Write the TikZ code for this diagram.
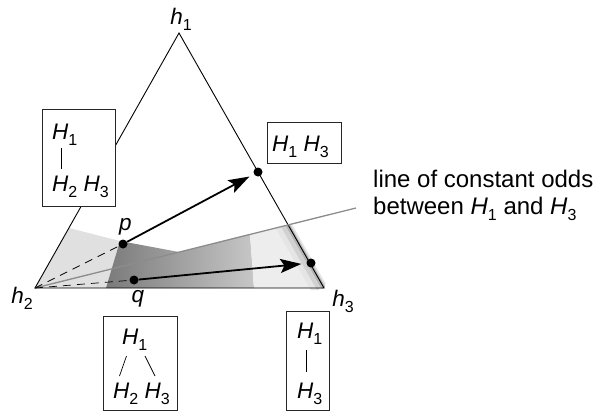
\documentclass[tikz,border=0pt]{standalone}
\usepackage{fontspec}
\setmainfont{Liberation Sans}
\usetikzlibrary{arrows.meta,positioning,calc}
\newcommand{\lowix}[1]{\raisebox{-6pt}{\fontsize{16}{16}\selectfont #1}}
\newcommand{\hyp}[1]{\textit{H}\lowix{#1}}
\newcommand{\vtx}[1]{\textit{h}\lowix{#1}}

\begin{document}
\begin{tikzpicture}[x=1pt,y=-1pt,
    font=\fontsize{22.5}{26}\selectfont,
    frame/.style={draw=black!85,line width=0.8pt,fill=white,inner sep=0pt},
    dot/.style={circle,fill=black,inner sep=0pt,minimum size=9pt},
    lbl/.style={inner sep=0pt},
    arr/.style={line width=1.8pt,-{Stealth[length=21pt,width=14pt,inset=4pt]},shorten >=5pt},
    guide/.style={dash pattern=on 8pt off 6pt,line width=0.7pt},
    odds/.style={black!45,line width=1.3pt},
    bar/.style={line width=0.7pt}]
  \useasboundingbox (0,0) rectangle (605,415);
  \coordinate (v1) at (179,33);
  \coordinate (v2) at (35,288);
  \coordinate (v3) at (324,288);
  \coordinate (oddsend) at (356,208);
  % shaded parts of the simplex
  \fill[black!12] (v2) -- (69,228) -- (120,241) -- (106,288) -- cycle;
  \shade[left color=black!52,right color=black!22]
    (106,288) -- (120,241) -- (179,252) -- (250,234.4) -- (254,288) -- cycle;
  \fill[black!7] (250,234.4) -- (288,225) -- (v3) -- (254,288) -- cycle;
  \begin{scope}
    \clip (270,229.4) -- (300,222) -- (330,290) -- (270,290) -- cycle;
    \draw[black!10,line width=16pt] ([xshift=-5pt]v1) -- ([xshift=-5pt]v3);
    \draw[black!18,line width=9pt] ([xshift=-3pt]v1) -- ([xshift=-3pt]v3);
    \draw[black!30,line width=4pt] ([xshift=-0.5pt]v1) -- ([xshift=-0.5pt]v3);
  \end{scope}
  % simplex
  \draw[line width=0.9pt] (v1) -- (v2) -- (v3) -- cycle;
  \draw[odds] (v2) -- (oddsend);
  \node[lbl] (lh1) at (181,19) {\vtx{1}};
  \node[lbl] (lh2) at (22,298.5) {\vtx{2}};
  \node[lbl] (lh3) at (343,301) {\vtx{3}};
  % points and moves
  \node[dot] (dp) at (123,244) {};
  \node[dot] (dq) at (134,280) {};
  \node[dot] (dr) at (258,172) {};
  \node[dot] (ds) at (311,263) {};
  \node[lbl,above=4pt of dp,xshift=2.5pt] (lp) {\textit{p}};
  \node[lbl,below=5.5pt of dq,xshift=4pt] (lq) {\textit{q}};
  \draw[guide] (v2) -- (dp);
  \draw[guide] (v2) -- (dq);
  \draw[arr] (dp) -- (dr);
  \draw[arr] (dq) -- (ds);
  % model structures
  \node[frame,minimum width=73pt,minimum height=97pt] (boxA) at (78.5,157.5) {};
  \node[lbl,anchor=base west] (a1) at (52,139) {\hyp{1}};
  \node[lbl,anchor=base west] (a23) at (52,191) {\hyp{2} \hyp{3}};
  \draw[bar] ([shift={(9,9)}]a1.base west) -- ([shift={(9,-22)}]a23.base west);
  \node[frame,minimum width=74pt,minimum height=41pt] (boxD) at (304,142.5) {};
  \node[lbl,anchor=base west] (d13) at (272,151) {\hyp{1} \hyp{3}};
  \node[frame,minimum width=74pt,minimum height=94pt] (boxB) at (140,363) {};
  \node[lbl,anchor=base west] (b1) at (122,344) {\hyp{1}};
  \node[lbl,anchor=base west] (b23) at (113,398) {\hyp{2} \hyp{3}};
  \draw[bar] ([shift={(4.5,12)}]b1.base west) -- ([shift={(6.5,-22)}]b23.base west);
  \draw[bar] ([shift={(23,12)}]b1.base west) -- ([shift={(42,-22)}]b23.base west);
  \node[frame,minimum width=43pt,minimum height=99pt] (boxC) at (308,360.5) {};
  \node[lbl,anchor=base west] (c1) at (297,338) {\hyp{1}};
  \node[lbl,anchor=base west] (c3) at (297,398) {\hyp{3}};
  \draw[bar] ([shift={(9,12)}]c1.base west) -- ([shift={(9,-26)}]c3.base west);
  % annotation
  \node[lbl,anchor=north west,align=left,font=\fontsize{24}{27}\selectfont] (note) at (373,170)
    {line of constant odds\\between \hyp{1} and \hyp{3}};
\end{tikzpicture}
\end{document}
